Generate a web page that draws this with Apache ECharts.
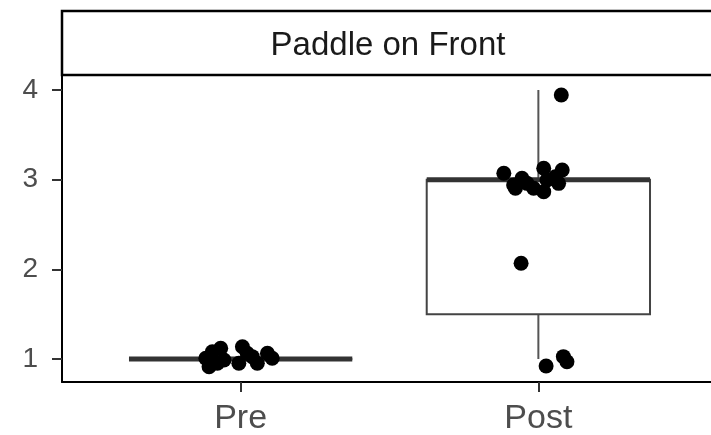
<!DOCTYPE html>
<html>
<head>
<meta charset="utf-8">
<script src="https://cdn.jsdelivr.net/npm/echarts@6/dist/echarts.min.js"></script>
<style>html,body{margin:0;padding:0;background:#fff;}#c{width:711px;height:435px;}</style>
</head>
<body>
<div id="c"></div>
<script>
const panelTitle = 'Paddle on Front';
const categories = ['Pre', 'Post'];
const yTicks = [1, 2, 3, 4];
// box stats per category: [categoryPosition, min, q1, median, q3, max]
const boxPre = [1, 1, 1, 1, 1, 1];
const boxPost = [2, 1, 1.5, 3, 3, 4];
// jittered observations
const preX = [0.894, 0.905, 0.933, 0.944, 0.922, 0.883, 1.006, 1.022, 0.994, 1.039, 1.056, 1.090, 1.106];
const preY = [0.914, 1.081, 1.119, 0.989, 0.952, 1.008, 1.137, 1.064, 0.952, 1.026, 0.952, 1.064, 1.008];
const postX = [1.884, 1.917, 1.945, 1.962, 1.923, 1.984, 2.018, 2.018, 2.029, 2.080, 2.068, 2.057, 2.077, 1.942, 2.026, 2.084, 2.096];
const postY = [3.071, 2.940, 3.015, 2.959, 2.904, 2.904, 3.127, 2.866, 2.996, 3.108, 2.959, 3.033, 3.944, 2.067, 0.922, 1.026, 0.970];

const points = preX.map((x, i) => [x, preY[i]]).concat(postX.map((x, i) => [x, postY[i]]));

const FONT = 'Liberation Sans, Arial, sans-serif';
const chart = echarts.init(document.getElementById('c'), null, {renderer: 'canvas'});

function renderBox(params, api) {
  const x = api.value(0);
  const lo = api.value(1), q1 = api.value(2), med = api.value(3), q3 = api.value(4), hi = api.value(5);
  const hw = api.size([0.375, 0])[0];
  const cLo = api.coord([x, lo]), cQ1 = api.coord([x, q1]), cMed = api.coord([x, med]);
  const cQ3 = api.coord([x, q3]), cHi = api.coord([x, hi]);
  const cx = cMed[0];
  const wStyle = {stroke: '#555', lineWidth: 2};
  return {
    type: 'group',
    children: [
      {type: 'line', shape: {x1: cx, y1: cQ3[1], x2: cx, y2: cHi[1]}, style: wStyle},
      {type: 'line', shape: {x1: cx, y1: cQ1[1], x2: cx, y2: cLo[1]}, style: wStyle},
      {type: 'rect', shape: {x: cx - hw, y: cQ3[1], width: 2 * hw, height: cQ1[1] - cQ3[1]},
        style: {fill: '#fff', stroke: '#444', lineWidth: 2}},
      {type: 'line', shape: {x1: cx - hw, y1: cMed[1], x2: cx + hw, y2: cMed[1]},
        style: {stroke: '#333', lineWidth: 5}}
    ]
  };
}

const option = {
  animation: false,
  backgroundColor: '#fff',
  grid: {left: 62, top: 75, right: -6, height: 307, containLabel: false, outerBoundsMode: 'none'},
  xAxis: {
    type: 'value', min: 0.4, max: 2.6,
    splitLine: {show: false},
    axisLine: {show: true, onZero: false, lineStyle: {color: '#000', width: 2}},
    axisTick: {show: true, length: 10, customValues: [1, 2], lineStyle: {color: '#333', width: 2}},
    axisLabel: {
      customValues: [1, 2], margin: 20,
      formatter: v => categories[Math.round(v) - 1] || '',
      color: '#4d4d4d', fontSize: 34, fontFamily: FONT
    }
  },
  yAxis: {
    type: 'value', min: 0.7435, max: 4.167,
    splitLine: {show: false},
    axisLine: {show: true, onZero: false, lineStyle: {color: '#000', width: 2}},
    axisTick: {show: true, length: 10, customValues: yTicks, lineStyle: {color: '#333', width: 2}},
    axisLabel: {customValues: yTicks, margin: 24, color: '#4d4d4d', fontSize: 28, fontFamily: FONT}
  },
  graphic: [
    {type: 'rect', shape: {x: 62, y: 11, width: 700, height: 64}, style: {fill: '#fff', stroke: '#000', lineWidth: 2.5}, z: 100},
    {type: 'text', x: 388, y: 46, style: {text: panelTitle, fill: '#1a1a1a', font: '33px ' + FONT, textAlign: 'center', textVerticalAlign: 'middle'}, z: 101}
  ],
  series: [
    {type: 'custom', renderItem: renderBox, data: [boxPre, boxPost], encode: {x: 0, y: [1, 2, 3, 4, 5]}, z: 2},
    {type: 'scatter', data: points, symbolSize: 15, itemStyle: {color: '#000', opacity: 1}, z: 5}
  ]
};
chart.setOption(option);
</script>
</body>
</html>
